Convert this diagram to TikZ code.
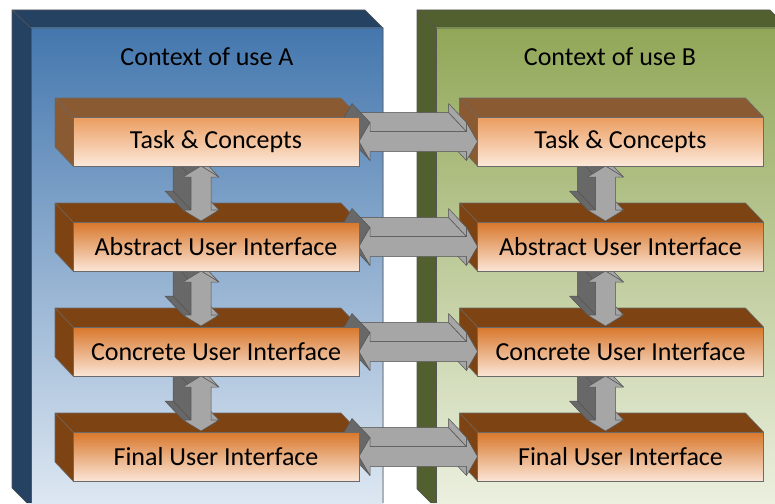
\documentclass[tikz,border=0pt]{standalone}
\usepackage{fontspec}
\setmainfont{Carlito}
\usetikzlibrary{calc}
\pgfdeclarelayer{panel}
\pgfdeclarelayer{backs}
\pgfdeclarelayer{arrows}
\pgfsetlayers{panel,backs,arrows,main}

\definecolor{bevA}{HTML}{254263}
\definecolor{panATop}{HTML}{4477AE}
\definecolor{panABot}{HTML}{DDE7F2}
\definecolor{bevB}{HTML}{525F2E}
\definecolor{panBTop}{HTML}{92A758}
\definecolor{panBBot}{HTML}{EBF0DF}
\definecolor{taskBrown}{HTML}{8A5A32}
\definecolor{uiBrown}{HTML}{7E4312}
\definecolor{taskTop}{HTML}{EB9D5F}
\definecolor{taskBot}{HTML}{FCE8DA}
\definecolor{uiTop}{HTML}{D8772B}
\definecolor{uiBot}{HTML}{FBE5D6}
\definecolor{arrLight}{HTML}{A6A6A6}
\definecolor{arrDark}{HTML}{686868}
\definecolor{arrLine}{HTML}{555555}
\definecolor{boxLine}{HTML}{6A6A6A}

\tikzset{
  edgeline/.style={draw=#1, line width=0.6pt},
  ctx/.style={font=\fontsize{26}{30}\selectfont, text=black},
  face/.style={rectangle, minimum width=286pt, minimum height=49pt,
    inner sep=0pt, outer sep=0pt, draw=boxLine, line width=0.6pt,
    font=\fontsize{26}{30}\selectfont, text=black},
  taskface/.style={face, top color=taskTop, bottom color=taskBot},
  uiface/.style={face, top color=uiTop, bottom color=uiBot},
  arrfill/.style={fill=arrLight, draw=arrLine, line width=0.5pt, line join=round},
  arrdarkfill/.style={fill=arrDark, draw=arrLine, line width=0.5pt, line join=round},
}

% 3D back part of a box (top and left faces)
\newcommand\boxback[2]{%
  \begin{pgfonlayer}{backs}
  \filldraw[fill=#2, draw=boxLine, line width=0.6pt, line join=round]
    ($(#1.north west)+(-18,-19)$) -- ($(#1.north east)+(-18,-19)$) --
    (#1.north east) -- (#1.south east) -- (#1.south west) --
    ($(#1.south west)+(-18,-19)$) -- cycle;
  \draw[draw=boxLine, line width=0.6pt] ($(#1.north west)+(-18,-19)$) -- (#1.north west);
  \end{pgfonlayer}}

% horizontal double arrow polygon, offset (#1,#2)
\newcommand\hpoly[2]{($(L)+(#1,#2)$) -- ++(11,-19) -- ++(0,9) --
  ($(R)+(-11,-10)+(#1,#2)$) -- ++(0,-9) -- ($(R)+(#1,#2)$) -- ++(-11,19) --
  ++(0,-9) -- ($(L)+(11,10)+(#1,#2)$) -- ++(0,9) -- cycle}

\newcommand\harrow[2]{%
  \begin{pgfonlayer}{arrows}
  \coordinate (L) at (#1.east);
  \coordinate (R) at (#2.west);
  \foreach \t in {19,18,...,1}{
    \pgfmathsetmacro\dx{-0.947*\t}
    \pgfmathsetmacro\dy{-\t}
    \fill[arrDark] \hpoly{\dx}{\dy};
  }
  \filldraw[arrfill] ($(L)+(11,-10)$) -- ($(R)+(-11,-10)$) -- ($(R)+(-29,-29)$) -- ($(L)+(-7,-29)$) -- cycle;
  \filldraw[arrfill] ($(R)+(-11,-10)$) -- ($(R)+(-11,-19)$) -- ($(R)+(-29,-38)$) -- ($(R)+(-29,-29)$) -- cycle;
  \filldraw[arrfill] ($(R)+(-11,19)$) -- ($(R)+(-11,10)$) -- ($(R)+(-29,-9)$) -- ($(R)+(-29,0)$) -- cycle;
  \filldraw[arrdarkfill] (L) -- ($(L)+(11,-19)$) -- ($(L)+(-7,-38)$) -- ($(L)+(-18,-19)$) -- cycle;
  \filldraw[arrdarkfill] (L) -- ($(L)+(11,19)$) -- ($(L)+(-7,0)$) -- ($(L)+(-18,-19)$) -- cycle;
  \filldraw[arrfill] \hpoly{0}{0};
  \end{pgfonlayer}}

% vertical double arrow polygon, offset (#1,#2)
\newcommand\vpoly[2]{($(T)+(#1,#2)$) -- ++(18,11) -- ++(-8,0) --
  ($(B)+(10,-11)+(#1,#2)$) -- ++(8,0) -- ($(B)+(#1,#2)$) -- ++(-18,-11) --
  ++(8,0) -- ($(T)+(-10,11)+(#1,#2)$) -- ++(-8,0) -- cycle}

\newcommand\varrow[2]{%
  \begin{pgfonlayer}{arrows}
  \coordinate (T) at ($(#1.south)+(-15,0)$);
  \coordinate (B) at ($(#2.north)+(-15,-1)$);
  \foreach \t in {19,18,...,1}{
    \pgfmathsetmacro\dx{-0.947*\t}
    \pgfmathsetmacro\dy{-\t}
    \fill[arrDark] \vpoly{\dx}{\dy};
  }
  \filldraw[arrfill] (T) -- ($(T)+(18,11)$) -- ($(T)+(0,-8)$) -- ($(T)+(-18,-19)$) -- cycle;
  \filldraw[arrdarkfill] ($(T)+(-10,11)$) -- ($(B)+(-10,-11)$) -- ($(B)+(-28,-30)$) -- ($(T)+(-28,-8)$) -- cycle;
  \filldraw[arrdarkfill] ($(B)+(-18,-11)$) -- ($(B)+(-10,-11)$) -- ($(B)+(-28,-30)$) -- ($(B)+(-36,-30)$) -- cycle;
  \filldraw[arrfill] ($(B)+(10,-11)$) -- ($(B)+(18,-11)$) -- ($(B)+(0,-30)$) -- ($(B)+(-8,-30)$) -- cycle;
  \filldraw[arrfill] \vpoly{0}{0};
  \end{pgfonlayer}}

\begin{document}
\begin{tikzpicture}[x=1pt,y=-1pt]
\useasboundingbox (0,0) rectangle (775,503);

% panels
\begin{pgfonlayer}{panel}
  \fill[bevA] (12,10) -- (365,10) -- (383,28) -- (383,503) -- (27,503) -- (12,488) -- cycle;
  \shade[top color=panATop, bottom color=panABot] (31,28) rectangle (383,503);
  \draw[edgeline=arrLine] (27,503) -- (12,488) -- (12,10) -- (365,10) -- (383,28) -- (383,503);
  \draw[edgeline=arrLine] (12,10) -- (31,28) -- (383,28);
  \draw[edgeline=arrLine] (31,28) -- (31,503);
  \fill[bevB] (417,10) -- (770,10) -- (775,15) -- (775,503) -- (431,503) -- (417,489) -- cycle;
  \shade[top color=panBTop, bottom color=panBBot] (436,28) rectangle (775,503);
  \draw[edgeline=arrLine] (431,503) -- (417,489) -- (417,10) -- (770,10) -- (775,15);
  \draw[edgeline=arrLine] (417,10) -- (436,28) -- (775,28);
  \draw[edgeline=arrLine] (436,28) -- (436,503);
\end{pgfonlayer}

\node[ctx] (ctxA) at (207,57) {Context of use A};
\node[ctx] (ctxB) at (610,57) {Context of use B};

\node[taskface] (tA) at (216,141.5) {Task \& Concepts};
\node[uiface]   (aA) at (216,246.5) {Abstract User Interface};
\node[uiface]   (cA) at (216,351.5) {Concrete User Interface};
\node[uiface]   (fA) at (216,456.5) {Final User Interface};

\node[taskface] (tB) at (620.5,141.5) {Task \& Concepts};
\node[uiface]   (aB) at (620.5,246.5) {Abstract User Interface};
\node[uiface]   (cB) at (620.5,351.5) {Concrete User Interface};
\node[uiface]   (fB) at (620.5,456.5) {Final User Interface};

\boxback{tA}{taskBrown}
\boxback{aA}{uiBrown}
\boxback{cA}{uiBrown}
\boxback{fA}{uiBrown}
\boxback{tB}{taskBrown}
\boxback{aB}{uiBrown}
\boxback{cB}{uiBrown}
\boxback{fB}{uiBrown}

\harrow{tA}{tB}
\harrow{aA}{aB}
\harrow{cA}{cB}
\harrow{fA}{fB}

\varrow{tA}{aA}
\varrow{aA}{cA}
\varrow{cA}{fA}
\varrow{tB}{aB}
\varrow{aB}{cB}
\varrow{cB}{fB}
\end{tikzpicture}
\end{document}
